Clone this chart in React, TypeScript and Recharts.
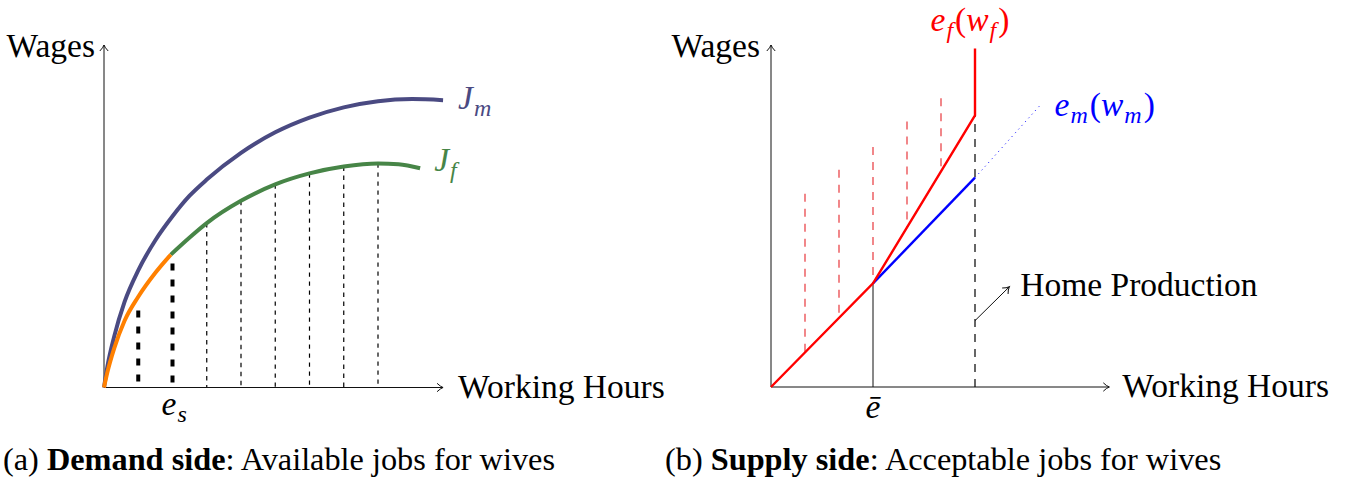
import { ComposedChart, Line, XAxis, YAxis, ReferenceLine, ReferenceDot } from "recharts";

const serif = '"Liberation Serif", "DejaVu Serif", serif';
const ink = "#111";

// (a) demand side: job offer curves for husbands (Jm) and wives (Jf)
const jmCurve = [
  { x: 0, y: 0 },
  { x: 0.1, y: 0.62 },
  { x: 0.3, y: 1.5 },
  { x: 0.6, y: 2.5 },
  { x: 1, y: 3.42 },
  { x: 1.5, y: 4.3 },
  { x: 2, y: 5.0 },
  { x: 2.5, y: 5.6 },
  { x: 3, y: 6.07 },
  { x: 4, y: 6.85 },
  { x: 5, y: 7.45 },
  { x: 6, y: 7.88 },
  { x: 7, y: 8.18 },
  { x: 8, y: 8.36 },
  { x: 9, y: 8.42 },
  { x: 9.9, y: 8.39 },
];
// part of Jf below e_s (orange) and above it (green)
const jfLow = [
  { x: 0, y: 0 },
  { x: 0.1, y: 0.45 },
  { x: 0.3, y: 1.15 },
  { x: 0.6, y: 1.95 },
  { x: 1, y: 2.65 },
  { x: 1.5, y: 3.35 },
  { x: 1.95, y: 3.88 },
];
const jfHigh = [
  { x: 1.95, y: 3.88 },
  { x: 2.5, y: 4.38 },
  { x: 3, y: 4.8 },
  { x: 4, y: 5.45 },
  { x: 5, y: 5.93 },
  { x: 6, y: 6.25 },
  { x: 7, y: 6.45 },
  { x: 8, y: 6.54 },
  { x: 8.6, y: 6.52 },
  { x: 9.23, y: 6.4 },
];
const shortJobs = [1, 2];
const shortTops = [2.25, 3.62];
const fullJobs = [3, 4, 5, 6, 7, 8];
const esAt = 2;

// (b) supply side: acceptance schedules
const efCurve = [
  { x: 0, y: 0 },
  { x: 3, y: 3.03 },
  { x: 6, y: 7.94 },
  { x: 6, y: 9.9 },
];
const emCurve = [
  { x: 3, y: 3.03 },
  { x: 6, y: 6.12 },
];
const emBeyond = [
  { x: 6, y: 6.12 },
  { x: 7.9, y: 8.22 },
];
const eBar = 3;
const homeAt = 6;
const offerXs = [1, 2, 3, 4, 5];
const offerBases = [1.01, 2.02, 3.03, 4.67, 6.3];
const offerTops = [5.65, 6.35, 7.02, 7.76, 8.44];
const homeArrow = [
  { x: 6, y: 1.94 },
  { x: 7.01, y: 2.93 },
];

const xAxisA = [{ x: 0, y: 0 }, { x: 9.9, y: 0 }];
const xAxisB = [{ x: 0, y: 0 }, { x: 9.95, y: 0 }];
const yAxisLine = [{ x: 0, y: 0 }, { x: 0, y: 10 }];

const arrowHead = (angle: number, at: number) => (p: any) =>
  p.index === at ? (
    <path
      key={`h${p.index}`}
      d="M -6 -4.2 Q -2.6 -0.9 0 0 Q -2.6 0.9 -6 4.2"
      transform={`translate(${p.cx} ${p.cy}) rotate(${angle})`}
      fill="none"
      stroke={ink}
      strokeWidth={1}
    />
  ) : (
    <g key={`h${p.index}`} />
  );

const txt = (dx: number, dy: number, body: any, opts: any = {}) => (p: any) => (
  <text
    x={p.cx + dx}
    y={p.cy + dy}
    textAnchor={opts.anchor || "start"}
    fill={opts.color || "#000"}
    fontSize={opts.size || 33.5}
    style={{ fontFamily: serif }}
  >
    {body}
  </text>
);

// math-style pieces: italic symbol, lowered subscript, then back to baseline
const it = (s: string, dy = 0) => (
  <tspan fontStyle="italic" dy={dy}>
    {s}
  </tspan>
);
const sub = (s: string) => (
  <tspan fontStyle="italic" fontSize={24} dy={7} dx={1}>
    {s}
  </tspan>
);
const up = (s: string) => (
  <tspan dy={-7} dx={2}>
    {s}
  </tspan>
);

function DemandSide() {
  return (
    <ComposedChart width={680} height={485} margin={{ top: 45, right: 233.5, bottom: 97.5, left: 104 }}>
      <XAxis type="number" dataKey="x" domain={[0, 10]} hide />
      <YAxis type="number" dataKey="y" domain={[0, 10]} hide />
      {shortJobs.map((k, i) => (
        <ReferenceLine
          key={`s${k}`}
          segment={[{ x: k, y: shortTops[i] }, { x: k, y: 0 }]}
          stroke="#000"
          strokeWidth={4}
          strokeDasharray="7 9"
          ifOverflow="visible"
        />
      ))}
      {fullJobs.map((k) => (
        <ReferenceLine
          key={`f${k}`}
          segment={[{ x: k, y: jfHigh.find((p) => p.x === k)!.y }, { x: k, y: 0 }]}
          stroke="#000"
          strokeWidth={1.2}
          strokeDasharray="4.3 4.7"
          ifOverflow="visible"
        />
      ))}
      <Line data={xAxisA} dataKey="y" type="linear" stroke={ink} strokeWidth={1} dot={arrowHead(0, 1)} activeDot={false} isAnimationActive={false} />
      <Line data={yAxisLine} dataKey="y" type="linear" stroke={ink} strokeWidth={1} dot={arrowHead(-90, 1)} activeDot={false} isAnimationActive={false} />
      <Line data={jmCurve} dataKey="y" type="monotone" stroke="#4a4a82" strokeWidth={4} dot={false} activeDot={false} isAnimationActive={false} />
      <Line data={jfHigh} dataKey="y" type="monotone" stroke="#478547" strokeWidth={4} dot={false} activeDot={false} isAnimationActive={false} />
      <Line data={jfLow} dataKey="y" type="monotone" stroke="#ff8000" strokeWidth={4} dot={false} activeDot={false} isAnimationActive={false} />
      <ReferenceDot x={0} y={10} ifOverflow="visible" shape={txt(-9, 12, "Wages", { anchor: "end" })} />
      <ReferenceDot x={9.9} y={0} ifOverflow="visible" shape={txt(15, 10, "Working Hours")} />
      <ReferenceDot x={esAt} y={0} ifOverflow="visible" shape={txt(-11, 27, <>{it("e")}{sub("s")}</>)} />
      <ReferenceDot
        x={jmCurve[jmCurve.length - 1].x}
        y={jmCurve[jmCurve.length - 1].y}
        ifOverflow="visible"
        shape={txt(15, 9, <>{it("J")}{sub("m")}</>, { color: "#4a4a82" })}
      />
      <ReferenceDot
        x={jfHigh[jfHigh.length - 1].x}
        y={jfHigh[jfHigh.length - 1].y}
        ifOverflow="visible"
        shape={txt(14, 3, <>{it("J")}{sub("f")}</>, { color: "#478547" })}
      />
    </ComposedChart>
  );
}

function SupplySide() {
  return (
    <ComposedChart width={760} height={485} margin={{ top: 45, right: 249, bottom: 98, left: 171 }}>
      <XAxis type="number" dataKey="x" domain={[0, 10]} hide />
      <YAxis type="number" dataKey="y" domain={[0, 10]} hide />
      {offerXs.map((k, i) => (
        <ReferenceLine
          key={`o${k}`}
          segment={[{ x: k, y: offerTops[i] }, { x: k, y: offerBases[i] }]}
          stroke="#e8383d"
          strokeWidth={1.2}
          strokeDasharray="8 7"
          ifOverflow="visible"
        />
      ))}
      <ReferenceLine segment={[{ x: eBar, y: 0 }, { x: eBar, y: 3.03 }]} stroke={ink} strokeWidth={1} ifOverflow="visible" />
      <ReferenceLine
        segment={[{ x: homeAt, y: 0 }, { x: homeAt, y: 7.94 }]}
        stroke="#000"
        strokeWidth={1.2}
        strokeDasharray="8 7"
        ifOverflow="visible"
      />
      <Line data={xAxisB} dataKey="y" type="linear" stroke={ink} strokeWidth={1} dot={arrowHead(0, 1)} activeDot={false} isAnimationActive={false} />
      <Line data={yAxisLine} dataKey="y" type="linear" stroke={ink} strokeWidth={1} dot={arrowHead(-90, 1)} activeDot={false} isAnimationActive={false} />
      <Line data={homeArrow} dataKey="y" type="linear" stroke={ink} strokeWidth={1} dot={arrowHead(-45, 1)} activeDot={false} isAnimationActive={false} />
      <Line data={emBeyond} dataKey="y" type="linear" stroke="#0000ff" strokeWidth={1} strokeDasharray="1 4" dot={false} activeDot={false} isAnimationActive={false} />
      <Line data={emCurve} dataKey="y" type="linear" stroke="#0000ff" strokeWidth={2.4} dot={false} activeDot={false} isAnimationActive={false} />
      <Line data={efCurve} dataKey="y" type="linear" stroke="#ff0000" strokeWidth={2.4} dot={false} activeDot={false} isAnimationActive={false} />
      <ReferenceDot x={0} y={10} ifOverflow="visible" shape={txt(-11, 12, "Wages", { anchor: "end" })} />
      <ReferenceDot x={9.95} y={0} ifOverflow="visible" shape={txt(13, 10, "Working Hours")} />
      <ReferenceDot x={eBar} y={0} ifOverflow="visible" shape={txt(0, 31, it("\u0113"), { anchor: "middle" })} />
      <ReferenceDot x={homeArrow[1].x} y={homeArrow[1].y} ifOverflow="visible" shape={txt(11, 9, "Home Production")} />
      <ReferenceDot
        x={efCurve[3].x}
        y={efCurve[3].y}
        ifOverflow="visible"
        shape={txt(-5, -17, <>{it("e")}{sub("f")}{up("(")}{it("w")}{sub("f")}{up(")")}</>, { anchor: "middle", color: "#ff0000" })}
      />
      <ReferenceDot
        x={emBeyond[1].x}
        y={emBeyond[1].y}
        ifOverflow="visible"
        shape={txt(15, 10, <>{it("e")}{sub("m")}{up("(")}{it("w")}{sub("m")}{up(")")}</>, { color: "#0000ff" })}
      />
    </ComposedChart>
  );
}

export default function App() {
  return (
    <div style={{ position: "absolute", left: 0, top: 0, width: 1360, height: 485, background: "#fff" }}>
      <div style={{ position: "absolute", left: 0, top: 0 }}>
        <DemandSide />
      </div>
      <div style={{ position: "absolute", left: 600, top: 0 }}>
        <SupplySide />
      </div>
      <svg width={1360} height={485} style={{ position: "absolute", left: 0, top: 0, pointerEvents: "none", fontFamily: serif }}>
        <text x={3} y={470} fontSize={32.3}>
          (a) <tspan fontWeight="bold">Demand side</tspan>: Available jobs for wives
        </text>
        <text x={665} y={470} fontSize={32.3}>
          (b) <tspan fontWeight="bold">Supply side</tspan>: Acceptable jobs for wives
        </text>
      </svg>
    </div>
  );
}
